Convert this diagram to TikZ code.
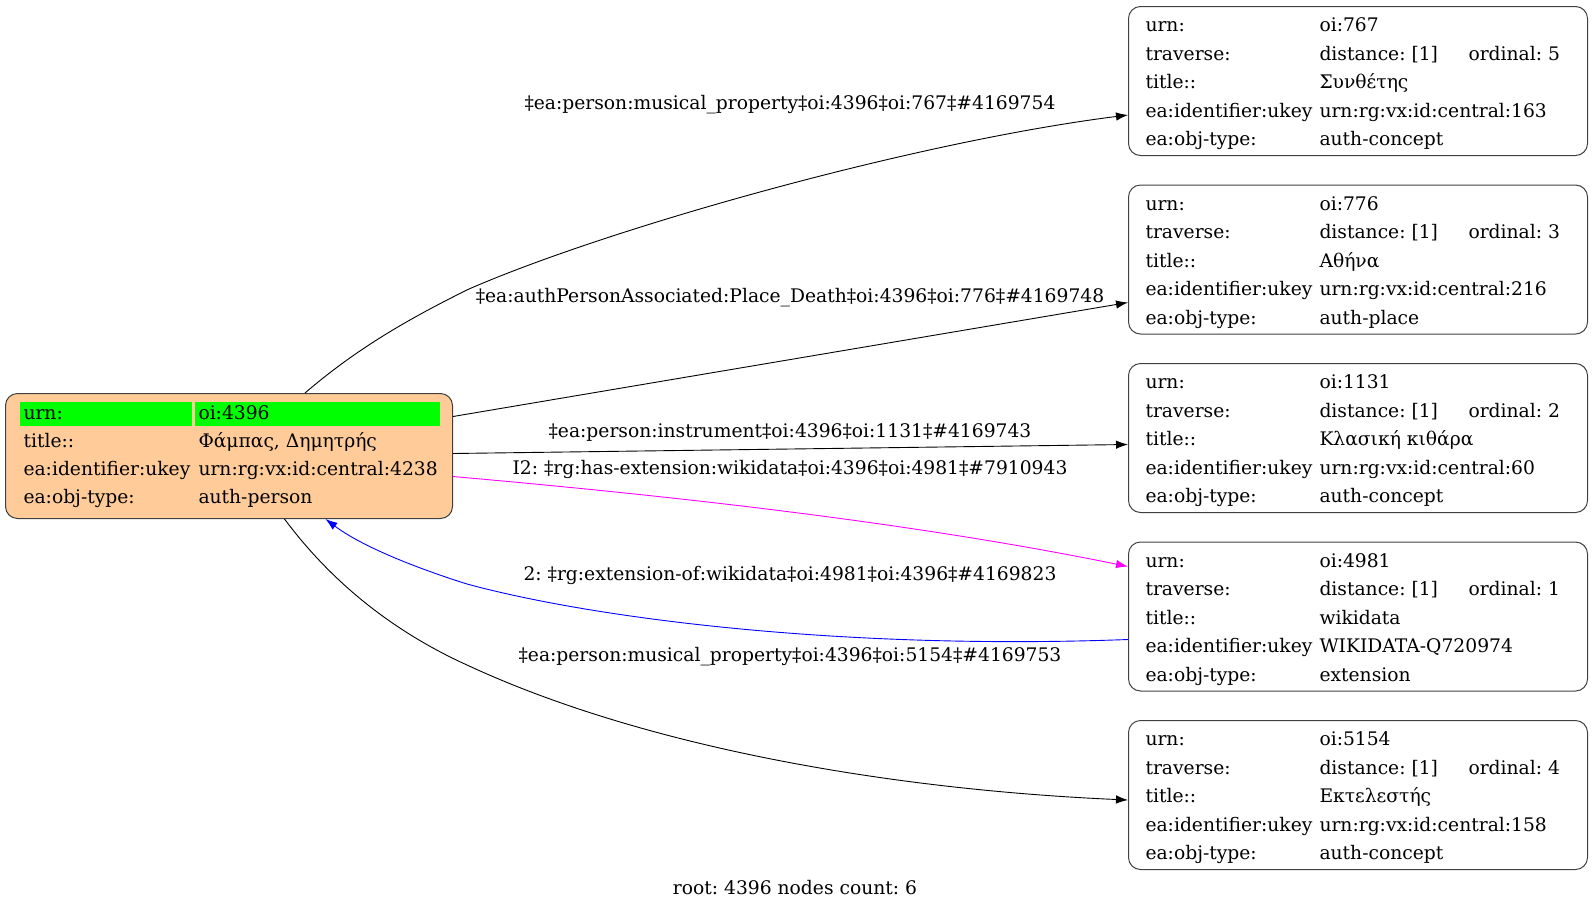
\documentclass[tikz,border=0pt]{standalone}
\usepackage{fontspec}
\setmainfont{DejaVu Serif}
\usepackage{array}
\usepackage{xcolor}
\usetikzlibrary{arrows.meta, positioning}
\definecolor{peach}{HTML}{FFCC99}
\definecolor{hlgreen}{HTML}{00FF00}
\definecolor{extmagenta}{HTML}{FF00FF}
\definecolor{extblue}{HTML}{0000FF}
\frenchspacing

\newcommand{\rowstrut}{\rule[-6pt]{0pt}{28pt}}
\newcommand{\rootstrut}{\rule[-9pt]{0pt}{28pt}}
\newcommand{\hlcell}[2]{\hspace*{-4pt}{\setlength{\fboxsep}{0pt}\colorbox{hlgreen}{\rule[-7pt]{0pt}{24pt}\makebox[#1][l]{\hspace{4pt}#2}}}}
\newcommand{\objrec}[5]{%
\begin{tabular}{@{}>{\rowstrut}w{l}{174pt}@{}w{l}{149pt}@{}w{l}{102pt}@{}}
urn: & #1 & \\
traverse: & distance: [1] & ordinal: #2\\
title:: & #3 & \\
ea:identifier:ukey & #4 & \\
ea:obj-type: & #5 &
\end{tabular}}

\begin{document}
\begin{tikzpicture}[x=1pt, y=-1pt, >={Latex[length=12pt, width=8.5pt]}]
 % We define the styles for the records and the links
 \tikzset{
record/.style = {draw=black!75, rectangle, rounded corners=12pt, line width=1pt, inner xsep=17pt, inner ysep=3pt, anchor=north west, font=\fontsize{18.7}{22}\selectfont},
rootrec/.style = {record, fill=peach, inner xsep=18pt, inner ysep=6.5pt},
link/.style = {draw, ->, line width=0.9pt},
tag/.style = {font=\fontsize{18.7}{22}\selectfont, inner sep=0pt},
}
 \useasboundingbox (0,0) rectangle (1592,911);

 % Root person record
 \node [rootrec] (person) at (5,393) {%
\begin{tabular}{@{}>{\rootstrut}w{l}{175pt}@{}w{l}{236pt}@{}}
\hlcell{172pt}{urn:} & \hlcell{245pt}{oi:4396}\\
title:: & Φάμπας, Δημητρής\\
ea:identifier:ukey & urn:rg:vx:id:central:4238\\
ea:obj-type: & auth-person
\end{tabular}};

 % Linked records
 \node [record] (o767) at (1128,6) {\objrec{oi:767}{5}{Συνθέτης}{urn:rg:vx:id:central:163}{auth-concept}};
 \node [record] (o776) at (1128,184.5) {\objrec{oi:776}{3}{Αθήνα}{urn:rg:vx:id:central:216}{auth-place}};
 \node [record] (o1131) at (1128,363) {\objrec{oi:1131}{2}{Κλασική κιθάρα}{urn:rg:vx:id:central:60}{auth-concept}};
 \node [record] (o4981) at (1128,541.5) {\objrec{oi:4981}{1}{wikidata}{WIKIDATA-Q720974}{extension}};
 \node [record] (o5154) at (1128,720) {\objrec{oi:5154}{4}{Εκτελεστής}{urn:rg:vx:id:central:158}{auth-concept}};

 % Links and their labels
 \draw [link] ([xshift=76pt]person.north) .. controls (355,350) and (406,320) .. (469,289)
   .. controls (609,228) and (914,142) .. ([yshift=-34pt]o767.west);
 \node [tag] (t767) at (790,104.6) {‡ea:person:musical\_property‡oi:4396‡oi:767‡\#4169754};

 \draw [link] ([yshift=39.5pt]person.east) -- ([yshift=-43pt]o776.west);
 \node [tag] (t776) at (790,297.5) {‡ea:authPersonAssociated:Place\_Death‡oi:4396‡oi:776‡\#4169748};

 \draw [link] ([yshift=2.5pt]person.east) -- ([yshift=-6.5pt]o1131.west);
 \node [tag] (t1131) at (790,432.5) {‡ea:person:instrument‡oi:4396‡oi:1131‡\#4169743};

 \draw [link, extmagenta] ([yshift=-20.5pt]person.east) .. controls (650,494) and (900,520) .. ([yshift=50pt]o4981.west);
 \node [tag] (t4981) at (790,469) {I2: ‡rg:has-extension:wikidata‡oi:4396‡oi:4981‡\#7910943};

 \draw [link, extblue] ([yshift=-23pt]o4981.west) .. controls (850,650) and (600,620) .. (467,584)
   .. controls (410,566) and (360,545) .. ([xshift=96.5pt]person.south);
 \node [tag] (tback) at (790,575.7) {2: ‡rg:extension-of:wikidata‡oi:4981‡oi:4396‡\#4169823};

 \draw [link] ([xshift=55.5pt]person.south) .. controls (330,580) and (390,630) .. (467,665)
   .. controls (650,750) and (900,790) .. ([yshift=-5pt]o5154.west);
 \node [tag] (t5154) at (790,657) {‡ea:person:musical\_property‡oi:4396‡oi:5154‡\#4169753};

 % Caption
 \node [tag] (caption) at (795,888) {root: 4396 nodes count: 6};

\end{tikzpicture}
\end{document}
